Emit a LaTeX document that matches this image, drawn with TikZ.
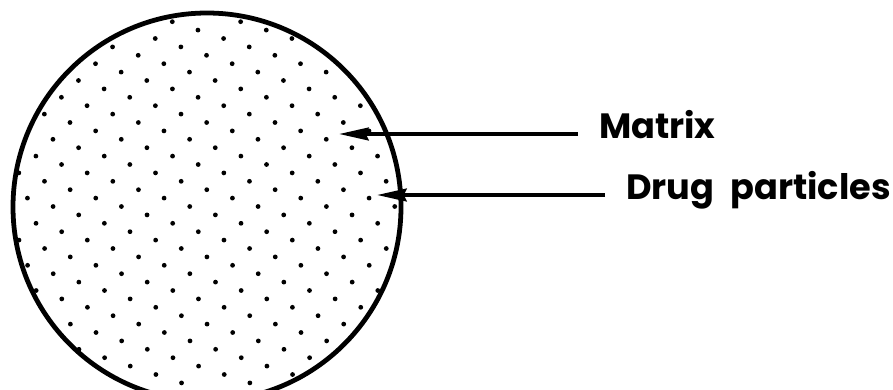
\documentclass[tikz,border=0pt]{standalone}
\usepackage{fontspec}
\usepackage{tikz}
\usetikzlibrary{arrows.meta,positioning,calc}
\newfontfamily\labelfont{Poppins}
\definecolor{inkblack}{HTML}{000000}

\begin{document}
\begin{tikzpicture}[
  x=0.025cm, y=-0.025cm,
  >={Stealth[length=21pt, width=9pt, inset=2pt]},
  rim/.style={circle, draw=inkblack, line width=3.4pt, minimum size=388*0.025cm, inner sep=0pt},
  particle/.style={fill=inkblack},
  lbl/.style={anchor=west, inner sep=0pt, outer xsep=15pt, text height=0.7em, text depth=0pt,
              font=\labelfont\bfseries\fontsize{25}{28}\selectfont},
  pointer/.style={->, line width=2.8pt, inkblack},
]

% --- Frame (the circle runs past the lower edge) ---
\useasboundingbox (0,0) rectangle (893,389);
\clip (0,0) rectangle (893,389);

% --- Matrix with the particles in a slanted lattice ---
\node[rim] (tablet) at (207,207) {};
\foreach \j in {0,...,43} {
  \pgfmathsetmacro{\yy}{21.7+8.40*\j}
  \pgfmathsetmacro{\xa}{172.3+25.64*\j}
  \pgfmathsetmacro{\xs}{\xa-68.33*floor((\xa-13)/68.33)}
  \foreach \i in {0,...,5} {
    \pgfmathsetmacro{\xx}{\xs+68.33*\i}
    \pgfmathparse{(((\xx-207)/100)^2+((\yy-207)/100)^2 < 1.915^2) ? 1 : 0}
    \ifnum\pgfmathresult=1
      \fill[particle] (\xx,\yy) circle (1.7pt);
    \fi
  }
}

% --- Labels and pointers ---
\coordinate (matrixtip) at (339,134);
\coordinate (drugtip)   at (377,195);
\node[lbl] (matrixlbl) at (578,134) {Matrix};
\node[lbl] (druglbl)   at (605,195) {Drug\hspace{0.25em} particles};
\draw[pointer] (matrixlbl.west) -- (matrixtip);
\draw[pointer] (druglbl.west) -- (drugtip);

\end{tikzpicture}
\end{document}
